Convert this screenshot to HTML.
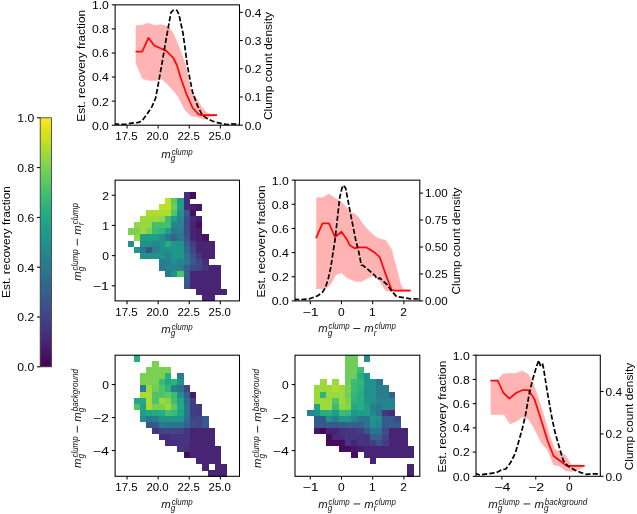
<!DOCTYPE html>
<html><head><meta charset="utf-8"><title>Recovery fraction corner plot</title>
<style>html,body{margin:0;padding:0;background:#fff;}body{width:637px;height:514px;overflow:hidden;font-family:"Liberation Sans",sans-serif;}svg{display:block;filter:blur(0.4px);}</style>
</head><body>
<svg width="637" height="514" viewBox="0 0 637 514" font-family='"Liberation Sans", sans-serif'>
<rect width="637" height="514" fill="#fff"/>
<defs><linearGradient id="vg" x1="0" y1="1" x2="0" y2="0">
<stop offset="0%" stop-color="#440154"/>
<stop offset="5%" stop-color="#471365"/>
<stop offset="10%" stop-color="#482475"/>
<stop offset="15%" stop-color="#45347f"/>
<stop offset="20%" stop-color="#414487"/>
<stop offset="25%" stop-color="#3b528b"/>
<stop offset="30%" stop-color="#355f8d"/>
<stop offset="35%" stop-color="#2f6c8e"/>
<stop offset="40%" stop-color="#2a788e"/>
<stop offset="45%" stop-color="#25848e"/>
<stop offset="50%" stop-color="#21918c"/>
<stop offset="55%" stop-color="#1e9d89"/>
<stop offset="60%" stop-color="#22a884"/>
<stop offset="65%" stop-color="#2fb47c"/>
<stop offset="70%" stop-color="#44bf70"/>
<stop offset="75%" stop-color="#5ec962"/>
<stop offset="80%" stop-color="#7ad151"/>
<stop offset="85%" stop-color="#9bd93c"/>
<stop offset="90%" stop-color="#bddf26"/>
<stop offset="95%" stop-color="#dfe318"/>
<stop offset="100%" stop-color="#fde725"/>
</linearGradient></defs>
<rect x="40.2" y="117.8" width="11.2" height="249" fill="url(#vg)" stroke="#333" stroke-width="0.8"/>
<line x1="36.9" y1="366.8" x2="40.2" y2="366.8" stroke="#000" stroke-width="1.05"/>
<text x="34.2" y="371.2" font-size="10.6" text-anchor="end" fill="#000" textLength="17" lengthAdjust="spacingAndGlyphs">0.0</text>
<line x1="36.9" y1="317" x2="40.2" y2="317" stroke="#000" stroke-width="1.05"/>
<text x="34.2" y="321.4" font-size="10.6" text-anchor="end" fill="#000" textLength="17" lengthAdjust="spacingAndGlyphs">0.2</text>
<line x1="36.9" y1="267.2" x2="40.2" y2="267.2" stroke="#000" stroke-width="1.05"/>
<text x="34.2" y="271.6" font-size="10.6" text-anchor="end" fill="#000" textLength="17" lengthAdjust="spacingAndGlyphs">0.4</text>
<line x1="36.9" y1="217.4" x2="40.2" y2="217.4" stroke="#000" stroke-width="1.05"/>
<text x="34.2" y="221.8" font-size="10.6" text-anchor="end" fill="#000" textLength="17" lengthAdjust="spacingAndGlyphs">0.6</text>
<line x1="36.9" y1="167.6" x2="40.2" y2="167.6" stroke="#000" stroke-width="1.05"/>
<text x="34.2" y="172" font-size="10.6" text-anchor="end" fill="#000" textLength="17" lengthAdjust="spacingAndGlyphs">0.8</text>
<line x1="36.9" y1="117.8" x2="40.2" y2="117.8" stroke="#000" stroke-width="1.05"/>
<text x="34.2" y="122.2" font-size="10.6" text-anchor="end" fill="#000" textLength="17" lengthAdjust="spacingAndGlyphs">1.0</text>
<text x="10.2" y="242" font-size="11" text-anchor="middle" fill="#000" textLength="112" lengthAdjust="spacingAndGlyphs" transform="rotate(-90 10.2 242)">Est. recovery fraction</text>
<clipPath id="c00"><rect x="115.1" y="4.85" width="124.4" height="120.35"/></clipPath>
<g clip-path="url(#c00)">
<path d="M136 25.4 L142.3 25.2 L148.4 23.2 L154.4 25.4 L161.5 24.8 L168.6 26.6 L173.4 33.7 L178 44.4 L180.75 51.5 L185.5 65 L190.25 88.75 L196.2 98.25 L201.5 106.6 L205.7 111.9 L210.4 114.3 L217 114.6 L217 115.8 L210.4 116.5 L204.5 119.6 L196.8 116.7 L191.4 116 L185.5 110.7 L180.75 101.8 L178 96.5 L173.4 90.5 L167.4 84 L161.5 79 L155.5 80.6 L149.6 80.6 L142.5 78.7 L137.2 66 L136 64 Z" fill="#ffb3b3" stroke="#ffb3b3" stroke-width="0.6" stroke-linejoin="round"/>
<path d="M135.6 51.5 L142.3 51.5 L148.4 37.8 L154.4 45.6 L160.4 48.2 L166.3 50.9 L173.4 58 L177 65.5 L180.75 78 L186.7 94.7 L192.6 107.75 L198.6 114.3 L201 115.1 L217 115.1" fill="none" stroke="#ff0808" stroke-width="1.75" stroke-linejoin="round" stroke-linecap="butt"/>
<path d="M114 123.8 L121.1 124.4 L125.9 124.1 L131.8 123.2 L139 122.4 L142.5 120.2 L147.25 113.7 L152 106.6 L155.6 98.25 L158.5 82.8 L161.5 66.2 L166 40 L171 12.3 L173.5 10.2 L175.2 9.8 L177 10.5 L179 14.7 L183.1 33.7 L187.3 65 L189.7 78 L192.6 92.3 L197.4 105.4 L202.1 114.9 L206.9 118.4 L211.6 120.8 L217.6 122.6 L223.5 124 L228.3 124.6 L231.8 123.8 L235.4 124.1 L240 124.1" fill="none" stroke="#000" stroke-width="1.7" stroke-dasharray="5.2 2.2" stroke-linejoin="round"/>
</g>
<rect x="115.1" y="4.85" width="124.4" height="120.35" fill="none" stroke="#000" stroke-width="1.05"/>
<line x1="127.04" y1="125.2" x2="127.04" y2="128.5" stroke="#000" stroke-width="1.05"/>
<text x="126.44" y="140.1" font-size="10.6" text-anchor="middle" fill="#000" textLength="22.2" lengthAdjust="spacingAndGlyphs">17.5</text>
<line x1="158.14" y1="125.2" x2="158.14" y2="128.5" stroke="#000" stroke-width="1.05"/>
<text x="157.54" y="140.1" font-size="10.6" text-anchor="middle" fill="#000" textLength="22.2" lengthAdjust="spacingAndGlyphs">20.0</text>
<line x1="189.24" y1="125.2" x2="189.24" y2="128.5" stroke="#000" stroke-width="1.05"/>
<text x="188.64" y="140.1" font-size="10.6" text-anchor="middle" fill="#000" textLength="22.2" lengthAdjust="spacingAndGlyphs">22.5</text>
<line x1="220.34" y1="125.2" x2="220.34" y2="128.5" stroke="#000" stroke-width="1.05"/>
<text x="219.74" y="140.1" font-size="10.6" text-anchor="middle" fill="#000" textLength="22.2" lengthAdjust="spacingAndGlyphs">25.0</text>
<line x1="111.8" y1="125.2" x2="115.1" y2="125.2" stroke="#000" stroke-width="1.05"/>
<text x="108.9" y="129.6" font-size="10.6" text-anchor="end" fill="#000" textLength="17" lengthAdjust="spacingAndGlyphs">0.0</text>
<line x1="111.8" y1="101.13" x2="115.1" y2="101.13" stroke="#000" stroke-width="1.05"/>
<text x="108.9" y="105.53" font-size="10.6" text-anchor="end" fill="#000" textLength="17" lengthAdjust="spacingAndGlyphs">0.2</text>
<line x1="111.8" y1="77.06" x2="115.1" y2="77.06" stroke="#000" stroke-width="1.05"/>
<text x="108.9" y="81.46" font-size="10.6" text-anchor="end" fill="#000" textLength="17" lengthAdjust="spacingAndGlyphs">0.4</text>
<line x1="111.8" y1="52.99" x2="115.1" y2="52.99" stroke="#000" stroke-width="1.05"/>
<text x="108.9" y="57.39" font-size="10.6" text-anchor="end" fill="#000" textLength="17" lengthAdjust="spacingAndGlyphs">0.6</text>
<line x1="111.8" y1="28.92" x2="115.1" y2="28.92" stroke="#000" stroke-width="1.05"/>
<text x="108.9" y="33.32" font-size="10.6" text-anchor="end" fill="#000" textLength="17" lengthAdjust="spacingAndGlyphs">0.8</text>
<line x1="111.8" y1="4.85" x2="115.1" y2="4.85" stroke="#000" stroke-width="1.05"/>
<text x="108.9" y="9.25" font-size="10.6" text-anchor="end" fill="#000" textLength="17" lengthAdjust="spacingAndGlyphs">1.0</text>
<line x1="239.5" y1="125.2" x2="242.8" y2="125.2" stroke="#000" stroke-width="1.05"/>
<text x="244.8" y="129.6" font-size="10.6" text-anchor="start" fill="#000" textLength="16.6" lengthAdjust="spacingAndGlyphs">0.0</text>
<line x1="239.5" y1="96.98" x2="242.8" y2="96.98" stroke="#000" stroke-width="1.05"/>
<text x="244.8" y="101.38" font-size="10.6" text-anchor="start" fill="#000" textLength="16.6" lengthAdjust="spacingAndGlyphs">0.1</text>
<line x1="239.5" y1="68.76" x2="242.8" y2="68.76" stroke="#000" stroke-width="1.05"/>
<text x="244.8" y="73.16" font-size="10.6" text-anchor="start" fill="#000" textLength="16.6" lengthAdjust="spacingAndGlyphs">0.2</text>
<line x1="239.5" y1="40.55" x2="242.8" y2="40.55" stroke="#000" stroke-width="1.05"/>
<text x="244.8" y="44.95" font-size="10.6" text-anchor="start" fill="#000" textLength="16.6" lengthAdjust="spacingAndGlyphs">0.3</text>
<line x1="239.5" y1="12.33" x2="242.8" y2="12.33" stroke="#000" stroke-width="1.05"/>
<text x="244.8" y="16.73" font-size="10.6" text-anchor="start" fill="#000" textLength="16.6" lengthAdjust="spacingAndGlyphs">0.4</text>
<text x="85.1" y="65.8" font-size="11" text-anchor="middle" fill="#000" textLength="112" lengthAdjust="spacingAndGlyphs" transform="rotate(-90 85.1 65.8)">Est. recovery fraction</text>
<text x="272.4" y="66" font-size="11" text-anchor="middle" fill="#000" textLength="108" lengthAdjust="spacingAndGlyphs" transform="rotate(-90 272.4 66)">Clump count density</text>
<text x="161.25" y="157.7" font-size="11.8" font-style="italic" fill="#111" textLength="9.5" lengthAdjust="spacingAndGlyphs">m</text><text x="171.65" y="154.9" font-size="8.2" font-style="italic" fill="#111" textLength="21.1" lengthAdjust="spacingAndGlyphs">clump</text><text x="170.75" y="161" font-size="8.2" font-style="italic" fill="#111">g</text>
<g shape-rendering="crispEdges">
<rect x="183.52" y="192.22" width="6.52" height="6.34" fill="#462e7b"/>
<rect x="189.74" y="192.22" width="6.52" height="6.34" fill="#45085b"/>
<rect x="164.86" y="198.26" width="6.52" height="6.34" fill="#bddf26"/>
<rect x="171.08" y="198.26" width="6.52" height="6.34" fill="#5ec962"/>
<rect x="177.3" y="198.26" width="6.52" height="6.34" fill="#1e9d89"/>
<rect x="183.52" y="198.26" width="6.52" height="6.34" fill="#472a79"/>
<rect x="158.64" y="204.3" width="6.52" height="6.34" fill="#bddf26"/>
<rect x="164.86" y="204.3" width="6.52" height="6.34" fill="#bddf26"/>
<rect x="171.08" y="204.3" width="6.52" height="6.34" fill="#6fce58"/>
<rect x="177.3" y="204.3" width="6.52" height="6.34" fill="#1e9d89"/>
<rect x="183.52" y="204.3" width="6.52" height="6.34" fill="#472a79"/>
<rect x="189.74" y="204.3" width="6.52" height="6.34" fill="#481d6f"/>
<rect x="195.96" y="204.3" width="6.52" height="6.34" fill="#471365"/>
<rect x="146.2" y="210.34" width="6.52" height="6.34" fill="#afdd2f"/>
<rect x="152.42" y="210.34" width="6.52" height="6.34" fill="#afdd2f"/>
<rect x="158.64" y="210.34" width="6.52" height="6.34" fill="#afdd2f"/>
<rect x="164.86" y="210.34" width="6.52" height="6.34" fill="#afdd2f"/>
<rect x="171.08" y="210.34" width="6.52" height="6.34" fill="#4ec36a"/>
<rect x="177.3" y="210.34" width="6.52" height="6.34" fill="#21918c"/>
<rect x="183.52" y="210.34" width="6.52" height="6.34" fill="#39578c"/>
<rect x="189.74" y="210.34" width="6.52" height="6.34" fill="#460f62"/>
<rect x="139.98" y="216.38" width="6.52" height="6.34" fill="#9bd93c"/>
<rect x="146.2" y="216.38" width="6.52" height="6.34" fill="#9bd93c"/>
<rect x="152.42" y="216.38" width="6.52" height="6.34" fill="#9bd93c"/>
<rect x="158.64" y="216.38" width="6.52" height="6.34" fill="#8ed644"/>
<rect x="164.86" y="216.38" width="6.52" height="6.34" fill="#3cbb75"/>
<rect x="171.08" y="216.38" width="6.52" height="6.34" fill="#1e9d89"/>
<rect x="177.3" y="216.38" width="6.52" height="6.34" fill="#25848e"/>
<rect x="183.52" y="216.38" width="6.52" height="6.34" fill="#3f4a89"/>
<rect x="189.74" y="216.38" width="6.52" height="6.34" fill="#472a79"/>
<rect x="195.96" y="216.38" width="6.52" height="6.34" fill="#481d6f"/>
<rect x="133.76" y="222.41" width="6.52" height="6.34" fill="#94d740"/>
<rect x="139.98" y="222.41" width="6.52" height="6.34" fill="#94d740"/>
<rect x="146.2" y="222.41" width="6.52" height="6.34" fill="#94d740"/>
<rect x="152.42" y="222.41" width="6.52" height="6.34" fill="#44bf70"/>
<rect x="158.64" y="222.41" width="6.52" height="6.34" fill="#44bf70"/>
<rect x="164.86" y="222.41" width="6.52" height="6.34" fill="#44bf70"/>
<rect x="171.08" y="222.41" width="6.52" height="6.34" fill="#25848e"/>
<rect x="177.3" y="222.41" width="6.52" height="6.34" fill="#25848e"/>
<rect x="183.52" y="222.41" width="6.52" height="6.34" fill="#3f4a89"/>
<rect x="189.74" y="222.41" width="6.52" height="6.34" fill="#482475"/>
<rect x="195.96" y="222.41" width="6.52" height="6.34" fill="#460c5e"/>
<rect x="127.54" y="228.45" width="6.52" height="6.34" fill="#7ad151"/>
<rect x="133.76" y="228.45" width="6.52" height="6.34" fill="#7ad151"/>
<rect x="139.98" y="228.45" width="6.52" height="6.34" fill="#9bd93c"/>
<rect x="146.2" y="228.45" width="6.52" height="6.34" fill="#7ad151"/>
<rect x="152.42" y="228.45" width="6.52" height="6.34" fill="#3cbb75"/>
<rect x="158.64" y="228.45" width="6.52" height="6.34" fill="#2fb47c"/>
<rect x="164.86" y="228.45" width="6.52" height="6.34" fill="#1f9f88"/>
<rect x="171.08" y="228.45" width="6.52" height="6.34" fill="#2a788e"/>
<rect x="177.3" y="228.45" width="6.52" height="6.34" fill="#287d8e"/>
<rect x="183.52" y="228.45" width="6.52" height="6.34" fill="#3f4a89"/>
<rect x="189.74" y="228.45" width="6.52" height="6.34" fill="#482475"/>
<rect x="195.96" y="228.45" width="6.52" height="6.34" fill="#481d6f"/>
<rect x="133.76" y="234.49" width="6.52" height="6.34" fill="#94d740"/>
<rect x="139.98" y="234.49" width="6.52" height="6.34" fill="#1f9f88"/>
<rect x="146.2" y="234.49" width="6.52" height="6.34" fill="#1f9f88"/>
<rect x="152.42" y="234.49" width="6.52" height="6.34" fill="#1f9f88"/>
<rect x="158.64" y="234.49" width="6.52" height="6.34" fill="#21918c"/>
<rect x="164.86" y="234.49" width="6.52" height="6.34" fill="#2a788e"/>
<rect x="171.08" y="234.49" width="6.52" height="6.34" fill="#33648d"/>
<rect x="177.3" y="234.49" width="6.52" height="6.34" fill="#2a788e"/>
<rect x="183.52" y="234.49" width="6.52" height="6.34" fill="#3b528b"/>
<rect x="189.74" y="234.49" width="6.52" height="6.34" fill="#482475"/>
<rect x="195.96" y="234.49" width="6.52" height="6.34" fill="#481d6f"/>
<rect x="202.18" y="234.49" width="6.52" height="6.34" fill="#471365"/>
<rect x="127.54" y="240.52" width="6.52" height="6.34" fill="#21918c"/>
<rect x="139.98" y="240.52" width="6.52" height="6.34" fill="#21918c"/>
<rect x="146.2" y="240.52" width="6.52" height="6.34" fill="#21918c"/>
<rect x="152.42" y="240.52" width="6.52" height="6.34" fill="#23898d"/>
<rect x="158.64" y="240.52" width="6.52" height="6.34" fill="#21918c"/>
<rect x="164.86" y="240.52" width="6.52" height="6.34" fill="#27ad81"/>
<rect x="171.08" y="240.52" width="6.52" height="6.34" fill="#20968b"/>
<rect x="177.3" y="240.52" width="6.52" height="6.34" fill="#21918c"/>
<rect x="183.52" y="240.52" width="6.52" height="6.34" fill="#355f8d"/>
<rect x="189.74" y="240.52" width="6.52" height="6.34" fill="#433e84"/>
<rect x="195.96" y="240.52" width="6.52" height="6.34" fill="#482475"/>
<rect x="202.18" y="240.52" width="6.52" height="6.34" fill="#482475"/>
<rect x="208.4" y="240.52" width="6.52" height="6.34" fill="#482475"/>
<rect x="133.76" y="246.56" width="6.52" height="6.34" fill="#20968b"/>
<rect x="139.98" y="246.56" width="6.52" height="6.34" fill="#2a788e"/>
<rect x="146.2" y="246.56" width="6.52" height="6.34" fill="#3b528b"/>
<rect x="152.42" y="246.56" width="6.52" height="6.34" fill="#287d8e"/>
<rect x="158.64" y="246.56" width="6.52" height="6.34" fill="#238c8d"/>
<rect x="164.86" y="246.56" width="6.52" height="6.34" fill="#21918c"/>
<rect x="171.08" y="246.56" width="6.52" height="6.34" fill="#20968b"/>
<rect x="177.3" y="246.56" width="6.52" height="6.34" fill="#20968b"/>
<rect x="183.52" y="246.56" width="6.52" height="6.34" fill="#2f6c8e"/>
<rect x="189.74" y="246.56" width="6.52" height="6.34" fill="#414487"/>
<rect x="195.96" y="246.56" width="6.52" height="6.34" fill="#482475"/>
<rect x="202.18" y="246.56" width="6.52" height="6.34" fill="#482475"/>
<rect x="208.4" y="246.56" width="6.52" height="6.34" fill="#482475"/>
<rect x="139.98" y="252.6" width="6.52" height="6.34" fill="#21918c"/>
<rect x="146.2" y="252.6" width="6.52" height="6.34" fill="#21918c"/>
<rect x="152.42" y="252.6" width="6.52" height="6.34" fill="#21918c"/>
<rect x="158.64" y="252.6" width="6.52" height="6.34" fill="#21918c"/>
<rect x="164.86" y="252.6" width="6.52" height="6.34" fill="#25848e"/>
<rect x="171.08" y="252.6" width="6.52" height="6.34" fill="#20968b"/>
<rect x="177.3" y="252.6" width="6.52" height="6.34" fill="#20968b"/>
<rect x="183.52" y="252.6" width="6.52" height="6.34" fill="#2c738e"/>
<rect x="189.74" y="252.6" width="6.52" height="6.34" fill="#3b528b"/>
<rect x="195.96" y="252.6" width="6.52" height="6.34" fill="#45347f"/>
<rect x="202.18" y="252.6" width="6.52" height="6.34" fill="#482475"/>
<rect x="208.4" y="252.6" width="6.52" height="6.34" fill="#482475"/>
<rect x="158.64" y="258.64" width="6.52" height="6.34" fill="#287d8e"/>
<rect x="164.86" y="258.64" width="6.52" height="6.34" fill="#287d8e"/>
<rect x="171.08" y="258.64" width="6.52" height="6.34" fill="#238c8d"/>
<rect x="177.3" y="258.64" width="6.52" height="6.34" fill="#25848e"/>
<rect x="183.52" y="258.64" width="6.52" height="6.34" fill="#2a788e"/>
<rect x="189.74" y="258.64" width="6.52" height="6.34" fill="#375a8c"/>
<rect x="195.96" y="258.64" width="6.52" height="6.34" fill="#414487"/>
<rect x="202.18" y="258.64" width="6.52" height="6.34" fill="#462e7b"/>
<rect x="158.64" y="264.67" width="6.52" height="6.34" fill="#287d8e"/>
<rect x="164.86" y="264.67" width="6.52" height="6.34" fill="#25848e"/>
<rect x="171.08" y="264.67" width="6.52" height="6.34" fill="#25848e"/>
<rect x="177.3" y="264.67" width="6.52" height="6.34" fill="#287d8e"/>
<rect x="183.52" y="264.67" width="6.52" height="6.34" fill="#355f8d"/>
<rect x="189.74" y="264.67" width="6.52" height="6.34" fill="#3f4a89"/>
<rect x="195.96" y="264.67" width="6.52" height="6.34" fill="#414487"/>
<rect x="202.18" y="264.67" width="6.52" height="6.34" fill="#45347f"/>
<rect x="208.4" y="264.67" width="6.52" height="6.34" fill="#482475"/>
<rect x="214.62" y="264.67" width="6.52" height="6.34" fill="#482475"/>
<rect x="164.86" y="270.71" width="6.52" height="6.34" fill="#2a788e"/>
<rect x="171.08" y="270.71" width="6.52" height="6.34" fill="#21918c"/>
<rect x="177.3" y="270.71" width="6.52" height="6.34" fill="#4ec36a"/>
<rect x="183.52" y="270.71" width="6.52" height="6.34" fill="#355f8d"/>
<rect x="189.74" y="270.71" width="6.52" height="6.34" fill="#482475"/>
<rect x="195.96" y="270.71" width="6.52" height="6.34" fill="#482475"/>
<rect x="202.18" y="270.71" width="6.52" height="6.34" fill="#482475"/>
<rect x="208.4" y="270.71" width="6.52" height="6.34" fill="#482475"/>
<rect x="214.62" y="270.71" width="6.52" height="6.34" fill="#482475"/>
<rect x="183.52" y="276.75" width="6.52" height="6.34" fill="#375a8c"/>
<rect x="189.74" y="276.75" width="6.52" height="6.34" fill="#482475"/>
<rect x="195.96" y="276.75" width="6.52" height="6.34" fill="#482475"/>
<rect x="202.18" y="276.75" width="6.52" height="6.34" fill="#482475"/>
<rect x="208.4" y="276.75" width="6.52" height="6.34" fill="#482475"/>
<rect x="214.62" y="276.75" width="6.52" height="6.34" fill="#482475"/>
<rect x="183.52" y="282.79" width="6.52" height="6.34" fill="#39578c"/>
<rect x="189.74" y="282.79" width="6.52" height="6.34" fill="#482475"/>
<rect x="195.96" y="282.79" width="6.52" height="6.34" fill="#482475"/>
<rect x="202.18" y="282.79" width="6.52" height="6.34" fill="#482475"/>
<rect x="208.4" y="282.79" width="6.52" height="6.34" fill="#482475"/>
<rect x="214.62" y="282.79" width="6.52" height="6.34" fill="#482475"/>
<rect x="195.96" y="288.82" width="6.52" height="6.34" fill="#482475"/>
<rect x="202.18" y="288.82" width="6.52" height="6.34" fill="#482475"/>
<rect x="208.4" y="288.82" width="6.52" height="6.34" fill="#482475"/>
<rect x="214.62" y="288.82" width="6.52" height="6.34" fill="#482475"/>
<rect x="220.84" y="288.82" width="6.52" height="6.34" fill="#482475"/>
<rect x="202.18" y="294.86" width="6.52" height="6.34" fill="#482475"/>
<rect x="208.4" y="294.86" width="6.52" height="6.34" fill="#482475"/>
</g>
<rect x="115.1" y="180.15" width="124.4" height="120.75" fill="none" stroke="#000" stroke-width="1.05"/>
<line x1="127.04" y1="300.9" x2="127.04" y2="304.2" stroke="#000" stroke-width="1.05"/>
<text x="126.44" y="315.8" font-size="10.6" text-anchor="middle" fill="#000" textLength="22.2" lengthAdjust="spacingAndGlyphs">17.5</text>
<line x1="158.14" y1="300.9" x2="158.14" y2="304.2" stroke="#000" stroke-width="1.05"/>
<text x="157.54" y="315.8" font-size="10.6" text-anchor="middle" fill="#000" textLength="22.2" lengthAdjust="spacingAndGlyphs">20.0</text>
<line x1="189.24" y1="300.9" x2="189.24" y2="304.2" stroke="#000" stroke-width="1.05"/>
<text x="188.64" y="315.8" font-size="10.6" text-anchor="middle" fill="#000" textLength="22.2" lengthAdjust="spacingAndGlyphs">22.5</text>
<line x1="220.34" y1="300.9" x2="220.34" y2="304.2" stroke="#000" stroke-width="1.05"/>
<text x="219.74" y="315.8" font-size="10.6" text-anchor="middle" fill="#000" textLength="22.2" lengthAdjust="spacingAndGlyphs">25.0</text>
<line x1="111.8" y1="285.81" x2="115.1" y2="285.81" stroke="#000" stroke-width="1.05"/>
<text x="108.9" y="290.21" font-size="10.6" text-anchor="end" fill="#000" textLength="16.2" lengthAdjust="spacingAndGlyphs">−1</text>
<line x1="111.8" y1="255.62" x2="115.1" y2="255.62" stroke="#000" stroke-width="1.05"/>
<text x="108.9" y="260.02" font-size="10.6" text-anchor="end" fill="#000" textLength="6.7" lengthAdjust="spacingAndGlyphs">0</text>
<line x1="111.8" y1="225.43" x2="115.1" y2="225.43" stroke="#000" stroke-width="1.05"/>
<text x="108.9" y="229.83" font-size="10.6" text-anchor="end" fill="#000" textLength="6.7" lengthAdjust="spacingAndGlyphs">1</text>
<line x1="111.8" y1="195.24" x2="115.1" y2="195.24" stroke="#000" stroke-width="1.05"/>
<text x="108.9" y="199.64" font-size="10.6" text-anchor="end" fill="#000" textLength="6.7" lengthAdjust="spacingAndGlyphs">2</text>
<g transform="rotate(-90 81 242)"><text x="42.15" y="242" font-size="11.8" font-style="italic" fill="#111" textLength="9.5" lengthAdjust="spacingAndGlyphs">m</text><text x="52.55" y="239.2" font-size="8.2" font-style="italic" fill="#111" textLength="21.1" lengthAdjust="spacingAndGlyphs">clump</text><text x="51.65" y="245.3" font-size="8.2" font-style="italic" fill="#111">g</text><rect x="77.45" y="237.8" width="6.8" height="0.9" fill="#111"/><text x="88.35" y="242" font-size="11.8" font-style="italic" fill="#111" textLength="9.5" lengthAdjust="spacingAndGlyphs">m</text><text x="98.75" y="239.2" font-size="8.2" font-style="italic" fill="#111" textLength="21.1" lengthAdjust="spacingAndGlyphs">clump</text><text x="97.85" y="245.3" font-size="8.2" font-style="italic" fill="#111">r</text></g>
<text x="161.25" y="332.7" font-size="11.8" font-style="italic" fill="#111" textLength="9.5" lengthAdjust="spacingAndGlyphs">m</text><text x="171.65" y="329.9" font-size="8.2" font-style="italic" fill="#111" textLength="21.1" lengthAdjust="spacingAndGlyphs">clump</text><text x="170.75" y="336" font-size="8.2" font-style="italic" fill="#111">g</text>
<clipPath id="c11"><rect x="295" y="180.15" width="124.8" height="120.75"/></clipPath>
<g clip-path="url(#c11)">
<path d="M316.6 197.8 L322.5 197.8 L329 194 L334.4 197.8 L341.5 202 L346.3 207.3 L351 212.7 L354.6 213.8 L358 216.8 L361.9 222.8 L367.9 229.9 L375 236.4 L379.75 239.1 L385.7 240.3 L391.6 249.5 L394 259 L397.6 272 L400.5 284 L403.5 289.3 L410.6 290 L410.6 291 L403.5 291 L391.6 291.7 L385.7 290.5 L382 285 L378 278 L373.8 275.6 L367.9 278 L360.75 281.8 L354.6 281 L347.4 278 L341.5 272.7 L335.6 275 L330.8 284 L325.5 288.7 L316.6 288.7 Z" fill="#ffb3b3" stroke="#ffb3b3" stroke-width="0.6" stroke-linejoin="round"/>
<path d="M316 238.2 L322.5 223.3 L329 223.3 L335 237 L341.5 231.7 L346.85 239.4 L349.8 245.3 L354.6 248.3 L358 247.4 L366.7 247.4 L373.8 251.9 L379.75 257.2 L385.7 274.4 L391.6 289.9 L395 290.5 L410.6 290.5" fill="none" stroke="#ff0808" stroke-width="1.75" stroke-linejoin="round" stroke-linecap="butt"/>
<path d="M294 299.4 L301 299.7 L309.4 298.8 L317.75 295.8 L322.5 292.25 L325.5 287.5 L328.4 278 L330.8 267.3 L332.6 255.4 L335 240 L339.7 197.8 L342 188 L343.3 185.3 L345.7 188.3 L350.4 213.25 L355.75 240 L357.5 247 L359 253 L361.3 265 L363.1 265.5 L369 270.3 L375 275.6 L377.4 279.2 L379.75 278 L386.9 284.5 L391.6 291 L396.4 296.4 L403.5 297.6 L410.6 298.8 L416.6 299 L420 298.6" fill="none" stroke="#000" stroke-width="1.7" stroke-dasharray="5.2 2.2" stroke-linejoin="round"/>
</g>
<rect x="295" y="180.15" width="124.8" height="120.75" fill="none" stroke="#000" stroke-width="1.05"/>
<line x1="310.29" y1="300.9" x2="310.29" y2="304.2" stroke="#000" stroke-width="1.05"/>
<text x="310.69" y="315.8" font-size="10.6" text-anchor="middle" fill="#000" textLength="16.2" lengthAdjust="spacingAndGlyphs">−1</text>
<line x1="341.49" y1="300.9" x2="341.49" y2="304.2" stroke="#000" stroke-width="1.05"/>
<text x="341.29" y="315.8" font-size="10.6" text-anchor="middle" fill="#000" textLength="6.7" lengthAdjust="spacingAndGlyphs">0</text>
<line x1="372.69" y1="300.9" x2="372.69" y2="304.2" stroke="#000" stroke-width="1.05"/>
<text x="372.49" y="315.8" font-size="10.6" text-anchor="middle" fill="#000" textLength="6.7" lengthAdjust="spacingAndGlyphs">1</text>
<line x1="403.89" y1="300.9" x2="403.89" y2="304.2" stroke="#000" stroke-width="1.05"/>
<text x="403.69" y="315.8" font-size="10.6" text-anchor="middle" fill="#000" textLength="6.7" lengthAdjust="spacingAndGlyphs">2</text>
<line x1="291.7" y1="300.9" x2="295" y2="300.9" stroke="#000" stroke-width="1.05"/>
<text x="288.8" y="305.3" font-size="10.6" text-anchor="end" fill="#000" textLength="17" lengthAdjust="spacingAndGlyphs">0.0</text>
<line x1="291.7" y1="276.75" x2="295" y2="276.75" stroke="#000" stroke-width="1.05"/>
<text x="288.8" y="281.15" font-size="10.6" text-anchor="end" fill="#000" textLength="17" lengthAdjust="spacingAndGlyphs">0.2</text>
<line x1="291.7" y1="252.6" x2="295" y2="252.6" stroke="#000" stroke-width="1.05"/>
<text x="288.8" y="257" font-size="10.6" text-anchor="end" fill="#000" textLength="17" lengthAdjust="spacingAndGlyphs">0.4</text>
<line x1="291.7" y1="228.45" x2="295" y2="228.45" stroke="#000" stroke-width="1.05"/>
<text x="288.8" y="232.85" font-size="10.6" text-anchor="end" fill="#000" textLength="17" lengthAdjust="spacingAndGlyphs">0.6</text>
<line x1="291.7" y1="204.3" x2="295" y2="204.3" stroke="#000" stroke-width="1.05"/>
<text x="288.8" y="208.7" font-size="10.6" text-anchor="end" fill="#000" textLength="17" lengthAdjust="spacingAndGlyphs">0.8</text>
<line x1="291.7" y1="180.15" x2="295" y2="180.15" stroke="#000" stroke-width="1.05"/>
<text x="288.8" y="184.55" font-size="10.6" text-anchor="end" fill="#000" textLength="17" lengthAdjust="spacingAndGlyphs">1.0</text>
<line x1="419.8" y1="300.9" x2="423.1" y2="300.9" stroke="#000" stroke-width="1.05"/>
<text x="425.1" y="305.3" font-size="10.6" text-anchor="start" fill="#000" textLength="22.6" lengthAdjust="spacingAndGlyphs">0.00</text>
<line x1="419.8" y1="273.95" x2="423.1" y2="273.95" stroke="#000" stroke-width="1.05"/>
<text x="425.1" y="278.35" font-size="10.6" text-anchor="start" fill="#000" textLength="22.6" lengthAdjust="spacingAndGlyphs">0.25</text>
<line x1="419.8" y1="246.99" x2="423.1" y2="246.99" stroke="#000" stroke-width="1.05"/>
<text x="425.1" y="251.39" font-size="10.6" text-anchor="start" fill="#000" textLength="22.6" lengthAdjust="spacingAndGlyphs">0.50</text>
<line x1="419.8" y1="220.04" x2="423.1" y2="220.04" stroke="#000" stroke-width="1.05"/>
<text x="425.1" y="224.44" font-size="10.6" text-anchor="start" fill="#000" textLength="22.6" lengthAdjust="spacingAndGlyphs">0.75</text>
<line x1="419.8" y1="193.09" x2="423.1" y2="193.09" stroke="#000" stroke-width="1.05"/>
<text x="425.1" y="197.49" font-size="10.6" text-anchor="start" fill="#000" textLength="22.6" lengthAdjust="spacingAndGlyphs">1.00</text>
<text x="264.8" y="241.4" font-size="11" text-anchor="middle" fill="#000" textLength="112" lengthAdjust="spacingAndGlyphs" transform="rotate(-90 264.8 241.4)">Est. recovery fraction</text>
<text x="460.2" y="241" font-size="11" text-anchor="middle" fill="#000" textLength="107" lengthAdjust="spacingAndGlyphs" transform="rotate(-90 460.2 241)">Clump count density</text>
<text x="318.15" y="332.2" font-size="11.8" font-style="italic" fill="#111" textLength="9.5" lengthAdjust="spacingAndGlyphs">m</text><text x="328.55" y="329.4" font-size="8.2" font-style="italic" fill="#111" textLength="21.1" lengthAdjust="spacingAndGlyphs">clump</text><text x="327.65" y="335.5" font-size="8.2" font-style="italic" fill="#111">g</text><rect x="353.45" y="328" width="6.8" height="0.9" fill="#111"/><text x="364.35" y="332.2" font-size="11.8" font-style="italic" fill="#111" textLength="9.5" lengthAdjust="spacingAndGlyphs">m</text><text x="374.75" y="329.4" font-size="8.2" font-style="italic" fill="#111" textLength="21.1" lengthAdjust="spacingAndGlyphs">clump</text><text x="373.85" y="335.5" font-size="8.2" font-style="italic" fill="#111">r</text>
<g shape-rendering="crispEdges">
<rect x="133.76" y="355.2" width="6.52" height="6.36" fill="#27ad81"/>
<rect x="152.42" y="361.25" width="6.52" height="6.36" fill="#7ad151"/>
<rect x="146.2" y="367.31" width="6.52" height="6.36" fill="#7ad151"/>
<rect x="152.42" y="367.31" width="6.52" height="6.36" fill="#7ad151"/>
<rect x="158.64" y="367.31" width="6.52" height="6.36" fill="#7ad151"/>
<rect x="164.86" y="367.31" width="6.52" height="6.36" fill="#7ad151"/>
<rect x="139.98" y="373.37" width="6.52" height="6.36" fill="#7ad151"/>
<rect x="146.2" y="373.37" width="6.52" height="6.36" fill="#7ad151"/>
<rect x="152.42" y="373.37" width="6.52" height="6.36" fill="#7ad151"/>
<rect x="158.64" y="373.37" width="6.52" height="6.36" fill="#7ad151"/>
<rect x="164.86" y="373.37" width="6.52" height="6.36" fill="#2aaf7f"/>
<rect x="177.3" y="373.37" width="6.52" height="6.36" fill="#277f8e"/>
<rect x="139.98" y="379.42" width="6.52" height="6.36" fill="#7ad151"/>
<rect x="146.2" y="379.42" width="6.52" height="6.36" fill="#7ad151"/>
<rect x="152.42" y="379.42" width="6.52" height="6.36" fill="#7ad151"/>
<rect x="158.64" y="379.42" width="6.52" height="6.36" fill="#3cbb75"/>
<rect x="164.86" y="379.42" width="6.52" height="6.36" fill="#22a884"/>
<rect x="171.08" y="379.42" width="6.52" height="6.36" fill="#2fb47c"/>
<rect x="177.3" y="379.42" width="6.52" height="6.36" fill="#21918c"/>
<rect x="139.98" y="385.48" width="6.52" height="6.36" fill="#287d8e"/>
<rect x="146.2" y="385.48" width="6.52" height="6.36" fill="#9bd93c"/>
<rect x="152.42" y="385.48" width="6.52" height="6.36" fill="#6fce58"/>
<rect x="158.64" y="385.48" width="6.52" height="6.36" fill="#4ec36a"/>
<rect x="164.86" y="385.48" width="6.52" height="6.36" fill="#2fb47c"/>
<rect x="171.08" y="385.48" width="6.52" height="6.36" fill="#287d8e"/>
<rect x="177.3" y="385.48" width="6.52" height="6.36" fill="#2c738e"/>
<rect x="183.52" y="385.48" width="6.52" height="6.36" fill="#414487"/>
<rect x="139.98" y="391.53" width="6.52" height="6.36" fill="#a9db33"/>
<rect x="146.2" y="391.53" width="6.52" height="6.36" fill="#a9db33"/>
<rect x="152.42" y="391.53" width="6.52" height="6.36" fill="#4ec36a"/>
<rect x="158.64" y="391.53" width="6.52" height="6.36" fill="#4ec36a"/>
<rect x="164.86" y="391.53" width="6.52" height="6.36" fill="#5ec962"/>
<rect x="171.08" y="391.53" width="6.52" height="6.36" fill="#3cbb75"/>
<rect x="177.3" y="391.53" width="6.52" height="6.36" fill="#238c8d"/>
<rect x="183.52" y="391.53" width="6.52" height="6.36" fill="#355f8d"/>
<rect x="189.74" y="391.53" width="6.52" height="6.36" fill="#471a6b"/>
<rect x="133.76" y="397.58" width="6.52" height="6.36" fill="#22a884"/>
<rect x="139.98" y="397.58" width="6.52" height="6.36" fill="#22a884"/>
<rect x="146.2" y="397.58" width="6.52" height="6.36" fill="#a9db33"/>
<rect x="152.42" y="397.58" width="6.52" height="6.36" fill="#4ec36a"/>
<rect x="158.64" y="397.58" width="6.52" height="6.36" fill="#9bd93c"/>
<rect x="164.86" y="397.58" width="6.52" height="6.36" fill="#87d449"/>
<rect x="171.08" y="397.58" width="6.52" height="6.36" fill="#44bf70"/>
<rect x="177.3" y="397.58" width="6.52" height="6.36" fill="#20a486"/>
<rect x="183.52" y="397.58" width="6.52" height="6.36" fill="#2f6c8e"/>
<rect x="189.74" y="397.58" width="6.52" height="6.36" fill="#433e84"/>
<rect x="133.76" y="403.64" width="6.52" height="6.36" fill="#4ec36a"/>
<rect x="139.98" y="403.64" width="6.52" height="6.36" fill="#20a486"/>
<rect x="146.2" y="403.64" width="6.52" height="6.36" fill="#a9db33"/>
<rect x="152.42" y="403.64" width="6.52" height="6.36" fill="#7ad151"/>
<rect x="158.64" y="403.64" width="6.52" height="6.36" fill="#7ad151"/>
<rect x="164.86" y="403.64" width="6.52" height="6.36" fill="#9bd93c"/>
<rect x="171.08" y="403.64" width="6.52" height="6.36" fill="#5ec962"/>
<rect x="177.3" y="403.64" width="6.52" height="6.36" fill="#22a884"/>
<rect x="183.52" y="403.64" width="6.52" height="6.36" fill="#2c738e"/>
<rect x="189.74" y="403.64" width="6.52" height="6.36" fill="#433e84"/>
<rect x="195.96" y="403.64" width="6.52" height="6.36" fill="#433a82"/>
<rect x="139.98" y="409.69" width="6.52" height="6.36" fill="#1e9d89"/>
<rect x="146.2" y="409.69" width="6.52" height="6.36" fill="#20a486"/>
<rect x="152.42" y="409.69" width="6.52" height="6.36" fill="#22a884"/>
<rect x="158.64" y="409.69" width="6.52" height="6.36" fill="#27ad81"/>
<rect x="164.86" y="409.69" width="6.52" height="6.36" fill="#44bf70"/>
<rect x="171.08" y="409.69" width="6.52" height="6.36" fill="#3cbb75"/>
<rect x="177.3" y="409.69" width="6.52" height="6.36" fill="#20a486"/>
<rect x="183.52" y="409.69" width="6.52" height="6.36" fill="#2a788e"/>
<rect x="189.74" y="409.69" width="6.52" height="6.36" fill="#433e84"/>
<rect x="195.96" y="409.69" width="6.52" height="6.36" fill="#433a82"/>
<rect x="139.98" y="415.75" width="6.52" height="6.36" fill="#238c8d"/>
<rect x="146.2" y="415.75" width="6.52" height="6.36" fill="#2a788e"/>
<rect x="152.42" y="415.75" width="6.52" height="6.36" fill="#287d8e"/>
<rect x="158.64" y="415.75" width="6.52" height="6.36" fill="#21918c"/>
<rect x="164.86" y="415.75" width="6.52" height="6.36" fill="#20968b"/>
<rect x="171.08" y="415.75" width="6.52" height="6.36" fill="#20968b"/>
<rect x="177.3" y="415.75" width="6.52" height="6.36" fill="#20968b"/>
<rect x="183.52" y="415.75" width="6.52" height="6.36" fill="#2f6c8e"/>
<rect x="189.74" y="415.75" width="6.52" height="6.36" fill="#414487"/>
<rect x="195.96" y="415.75" width="6.52" height="6.36" fill="#414487"/>
<rect x="202.18" y="415.75" width="6.52" height="6.36" fill="#375a8c"/>
<rect x="146.2" y="421.81" width="6.52" height="6.36" fill="#39578c"/>
<rect x="152.42" y="421.81" width="6.52" height="6.36" fill="#39578c"/>
<rect x="158.64" y="421.81" width="6.52" height="6.36" fill="#2a788e"/>
<rect x="164.86" y="421.81" width="6.52" height="6.36" fill="#2c738e"/>
<rect x="171.08" y="421.81" width="6.52" height="6.36" fill="#2c738e"/>
<rect x="177.3" y="421.81" width="6.52" height="6.36" fill="#2c738e"/>
<rect x="183.52" y="421.81" width="6.52" height="6.36" fill="#355f8d"/>
<rect x="189.74" y="421.81" width="6.52" height="6.36" fill="#3f4a89"/>
<rect x="195.96" y="421.81" width="6.52" height="6.36" fill="#414487"/>
<rect x="202.18" y="421.81" width="6.52" height="6.36" fill="#39578c"/>
<rect x="152.42" y="427.86" width="6.52" height="6.36" fill="#45347f"/>
<rect x="158.64" y="427.86" width="6.52" height="6.36" fill="#414487"/>
<rect x="164.86" y="427.86" width="6.52" height="6.36" fill="#414487"/>
<rect x="171.08" y="427.86" width="6.52" height="6.36" fill="#414487"/>
<rect x="177.3" y="427.86" width="6.52" height="6.36" fill="#414487"/>
<rect x="183.52" y="427.86" width="6.52" height="6.36" fill="#45347f"/>
<rect x="189.74" y="427.86" width="6.52" height="6.36" fill="#482475"/>
<rect x="195.96" y="427.86" width="6.52" height="6.36" fill="#482475"/>
<rect x="202.18" y="427.86" width="6.52" height="6.36" fill="#482475"/>
<rect x="208.4" y="427.86" width="6.52" height="6.36" fill="#482475"/>
<rect x="158.64" y="433.92" width="6.52" height="6.36" fill="#462e7b"/>
<rect x="164.86" y="433.92" width="6.52" height="6.36" fill="#462e7b"/>
<rect x="171.08" y="433.92" width="6.52" height="6.36" fill="#45347f"/>
<rect x="177.3" y="433.92" width="6.52" height="6.36" fill="#45347f"/>
<rect x="183.52" y="433.92" width="6.52" height="6.36" fill="#45347f"/>
<rect x="189.74" y="433.92" width="6.52" height="6.36" fill="#482475"/>
<rect x="195.96" y="433.92" width="6.52" height="6.36" fill="#482475"/>
<rect x="202.18" y="433.92" width="6.52" height="6.36" fill="#482475"/>
<rect x="208.4" y="433.92" width="6.52" height="6.36" fill="#482475"/>
<rect x="164.86" y="439.97" width="6.52" height="6.36" fill="#472a79"/>
<rect x="171.08" y="439.97" width="6.52" height="6.36" fill="#462e7b"/>
<rect x="177.3" y="439.97" width="6.52" height="6.36" fill="#45347f"/>
<rect x="183.52" y="439.97" width="6.52" height="6.36" fill="#45347f"/>
<rect x="189.74" y="439.97" width="6.52" height="6.36" fill="#482475"/>
<rect x="195.96" y="439.97" width="6.52" height="6.36" fill="#482475"/>
<rect x="202.18" y="439.97" width="6.52" height="6.36" fill="#482475"/>
<rect x="208.4" y="439.97" width="6.52" height="6.36" fill="#482475"/>
<rect x="177.3" y="446.02" width="6.52" height="6.36" fill="#45347f"/>
<rect x="183.52" y="446.02" width="6.52" height="6.36" fill="#462e7b"/>
<rect x="189.74" y="446.02" width="6.52" height="6.36" fill="#482475"/>
<rect x="195.96" y="446.02" width="6.52" height="6.36" fill="#482475"/>
<rect x="202.18" y="446.02" width="6.52" height="6.36" fill="#482475"/>
<rect x="208.4" y="446.02" width="6.52" height="6.36" fill="#482475"/>
<rect x="214.62" y="446.02" width="6.52" height="6.36" fill="#482475"/>
<rect x="183.52" y="452.08" width="6.52" height="6.36" fill="#460c5e"/>
<rect x="189.74" y="452.08" width="6.52" height="6.36" fill="#482475"/>
<rect x="195.96" y="452.08" width="6.52" height="6.36" fill="#482475"/>
<rect x="202.18" y="452.08" width="6.52" height="6.36" fill="#482475"/>
<rect x="208.4" y="452.08" width="6.52" height="6.36" fill="#482475"/>
<rect x="214.62" y="452.08" width="6.52" height="6.36" fill="#482475"/>
<rect x="195.96" y="458.13" width="6.52" height="6.36" fill="#482475"/>
<rect x="202.18" y="458.13" width="6.52" height="6.36" fill="#482475"/>
<rect x="208.4" y="458.13" width="6.52" height="6.36" fill="#482475"/>
<rect x="214.62" y="458.13" width="6.52" height="6.36" fill="#482475"/>
<rect x="202.18" y="464.19" width="6.52" height="6.36" fill="#482475"/>
<rect x="214.62" y="464.19" width="6.52" height="6.36" fill="#482475"/>
<rect x="220.84" y="464.19" width="6.52" height="6.36" fill="#482475"/>
<rect x="208.4" y="470.25" width="6.52" height="6.36" fill="#482475"/>
<rect x="214.62" y="470.25" width="6.52" height="6.36" fill="#482475"/>
<rect x="220.84" y="470.25" width="6.52" height="6.36" fill="#482475"/>
</g>
<rect x="115.1" y="355.2" width="124.4" height="121.1" fill="none" stroke="#000" stroke-width="1.05"/>
<line x1="127.04" y1="476.3" x2="127.04" y2="479.6" stroke="#000" stroke-width="1.05"/>
<text x="126.44" y="491.2" font-size="10.6" text-anchor="middle" fill="#000" textLength="22.2" lengthAdjust="spacingAndGlyphs">17.5</text>
<line x1="158.14" y1="476.3" x2="158.14" y2="479.6" stroke="#000" stroke-width="1.05"/>
<text x="157.54" y="491.2" font-size="10.6" text-anchor="middle" fill="#000" textLength="22.2" lengthAdjust="spacingAndGlyphs">20.0</text>
<line x1="189.24" y1="476.3" x2="189.24" y2="479.6" stroke="#000" stroke-width="1.05"/>
<text x="188.64" y="491.2" font-size="10.6" text-anchor="middle" fill="#000" textLength="22.2" lengthAdjust="spacingAndGlyphs">22.5</text>
<line x1="220.34" y1="476.3" x2="220.34" y2="479.6" stroke="#000" stroke-width="1.05"/>
<text x="219.74" y="491.2" font-size="10.6" text-anchor="middle" fill="#000" textLength="22.2" lengthAdjust="spacingAndGlyphs">25.0</text>
<line x1="111.8" y1="450.56" x2="115.1" y2="450.56" stroke="#000" stroke-width="1.05"/>
<text x="108.9" y="454.96" font-size="10.6" text-anchor="end" fill="#000" textLength="16.2" lengthAdjust="spacingAndGlyphs">−4</text>
<line x1="111.8" y1="417.56" x2="115.1" y2="417.56" stroke="#000" stroke-width="1.05"/>
<text x="108.9" y="421.96" font-size="10.6" text-anchor="end" fill="#000" textLength="16.2" lengthAdjust="spacingAndGlyphs">−2</text>
<line x1="111.8" y1="384.57" x2="115.1" y2="384.57" stroke="#000" stroke-width="1.05"/>
<text x="108.9" y="388.97" font-size="10.6" text-anchor="end" fill="#000" textLength="6.7" lengthAdjust="spacingAndGlyphs">0</text>
<g transform="rotate(-90 81 418.4)"><text x="31.5" y="418.4" font-size="11.8" font-style="italic" fill="#111" textLength="9.5" lengthAdjust="spacingAndGlyphs">m</text><text x="41.9" y="415.6" font-size="8.2" font-style="italic" fill="#111" textLength="21.1" lengthAdjust="spacingAndGlyphs">clump</text><text x="41" y="421.7" font-size="8.2" font-style="italic" fill="#111">g</text><rect x="66.8" y="414.2" width="6.8" height="0.9" fill="#111"/><text x="77.7" y="418.4" font-size="11.8" font-style="italic" fill="#111" textLength="9.5" lengthAdjust="spacingAndGlyphs">m</text><text x="88.1" y="415.6" font-size="8.2" font-style="italic" fill="#111" textLength="42.4" lengthAdjust="spacingAndGlyphs">background</text><text x="87.2" y="421.7" font-size="8.2" font-style="italic" fill="#111">g</text></g>
<text x="161.25" y="507.7" font-size="11.8" font-style="italic" fill="#111" textLength="9.5" lengthAdjust="spacingAndGlyphs">m</text><text x="171.65" y="504.9" font-size="8.2" font-style="italic" fill="#111" textLength="21.1" lengthAdjust="spacingAndGlyphs">clump</text><text x="170.75" y="511" font-size="8.2" font-style="italic" fill="#111">g</text>
<g shape-rendering="crispEdges">
<rect x="344.92" y="355.2" width="6.54" height="6.36" fill="#6fce58"/>
<rect x="351.16" y="355.2" width="6.54" height="6.36" fill="#6fce58"/>
<rect x="363.64" y="355.2" width="6.54" height="6.36" fill="#21918c"/>
<rect x="344.92" y="361.25" width="6.54" height="6.36" fill="#6fce58"/>
<rect x="351.16" y="361.25" width="6.54" height="6.36" fill="#6fce58"/>
<rect x="344.92" y="367.31" width="6.54" height="6.36" fill="#6fce58"/>
<rect x="351.16" y="367.31" width="6.54" height="6.36" fill="#6fce58"/>
<rect x="357.4" y="367.31" width="6.54" height="6.36" fill="#3cbb75"/>
<rect x="344.92" y="373.37" width="6.54" height="6.36" fill="#6fce58"/>
<rect x="351.16" y="373.37" width="6.54" height="6.36" fill="#6fce58"/>
<rect x="357.4" y="373.37" width="6.54" height="6.36" fill="#27ad81"/>
<rect x="363.64" y="373.37" width="6.54" height="6.36" fill="#21918c"/>
<rect x="319.96" y="379.42" width="6.54" height="6.36" fill="#9bd93c"/>
<rect x="332.44" y="379.42" width="6.54" height="6.36" fill="#9bd93c"/>
<rect x="344.92" y="379.42" width="6.54" height="6.36" fill="#6fce58"/>
<rect x="351.16" y="379.42" width="6.54" height="6.36" fill="#3cbb75"/>
<rect x="357.4" y="379.42" width="6.54" height="6.36" fill="#33b67a"/>
<rect x="363.64" y="379.42" width="6.54" height="6.36" fill="#21918c"/>
<rect x="369.88" y="379.42" width="6.54" height="6.36" fill="#21918c"/>
<rect x="376.12" y="379.42" width="6.54" height="6.36" fill="#2c738e"/>
<rect x="313.72" y="385.48" width="6.54" height="6.36" fill="#9bd93c"/>
<rect x="319.96" y="385.48" width="6.54" height="6.36" fill="#9bd93c"/>
<rect x="326.2" y="385.48" width="6.54" height="6.36" fill="#9bd93c"/>
<rect x="332.44" y="385.48" width="6.54" height="6.36" fill="#afdd2f"/>
<rect x="338.68" y="385.48" width="6.54" height="6.36" fill="#9bd93c"/>
<rect x="344.92" y="385.48" width="6.54" height="6.36" fill="#7ad151"/>
<rect x="351.16" y="385.48" width="6.54" height="6.36" fill="#3cbb75"/>
<rect x="357.4" y="385.48" width="6.54" height="6.36" fill="#2cb27e"/>
<rect x="363.64" y="385.48" width="6.54" height="6.36" fill="#21918c"/>
<rect x="369.88" y="385.48" width="6.54" height="6.36" fill="#21918c"/>
<rect x="376.12" y="385.48" width="6.54" height="6.36" fill="#287d8e"/>
<rect x="382.36" y="385.48" width="6.54" height="6.36" fill="#287d8e"/>
<rect x="313.72" y="391.53" width="6.54" height="6.36" fill="#9bd93c"/>
<rect x="319.96" y="391.53" width="6.54" height="6.36" fill="#2fb47c"/>
<rect x="326.2" y="391.53" width="6.54" height="6.36" fill="#9bd93c"/>
<rect x="332.44" y="391.53" width="6.54" height="6.36" fill="#9bd93c"/>
<rect x="338.68" y="391.53" width="6.54" height="6.36" fill="#9bd93c"/>
<rect x="344.92" y="391.53" width="6.54" height="6.36" fill="#6fce58"/>
<rect x="351.16" y="391.53" width="6.54" height="6.36" fill="#33b67a"/>
<rect x="357.4" y="391.53" width="6.54" height="6.36" fill="#27ad81"/>
<rect x="363.64" y="391.53" width="6.54" height="6.36" fill="#21918c"/>
<rect x="369.88" y="391.53" width="6.54" height="6.36" fill="#21918c"/>
<rect x="376.12" y="391.53" width="6.54" height="6.36" fill="#287d8e"/>
<rect x="382.36" y="391.53" width="6.54" height="6.36" fill="#287d8e"/>
<rect x="388.6" y="391.53" width="6.54" height="6.36" fill="#355f8d"/>
<rect x="313.72" y="397.58" width="6.54" height="6.36" fill="#9bd93c"/>
<rect x="319.96" y="397.58" width="6.54" height="6.36" fill="#9bd93c"/>
<rect x="326.2" y="397.58" width="6.54" height="6.36" fill="#9bd93c"/>
<rect x="332.44" y="397.58" width="6.54" height="6.36" fill="#4ec36a"/>
<rect x="338.68" y="397.58" width="6.54" height="6.36" fill="#9bd93c"/>
<rect x="344.92" y="397.58" width="6.54" height="6.36" fill="#7ad151"/>
<rect x="351.16" y="397.58" width="6.54" height="6.36" fill="#2cb27e"/>
<rect x="357.4" y="397.58" width="6.54" height="6.36" fill="#27ad81"/>
<rect x="363.64" y="397.58" width="6.54" height="6.36" fill="#20968b"/>
<rect x="369.88" y="397.58" width="6.54" height="6.36" fill="#21918c"/>
<rect x="376.12" y="397.58" width="6.54" height="6.36" fill="#25848e"/>
<rect x="382.36" y="397.58" width="6.54" height="6.36" fill="#25848e"/>
<rect x="388.6" y="397.58" width="6.54" height="6.36" fill="#25848e"/>
<rect x="313.72" y="403.64" width="6.54" height="6.36" fill="#20a486"/>
<rect x="319.96" y="403.64" width="6.54" height="6.36" fill="#9bd93c"/>
<rect x="326.2" y="403.64" width="6.54" height="6.36" fill="#9bd93c"/>
<rect x="332.44" y="403.64" width="6.54" height="6.36" fill="#3cbb75"/>
<rect x="338.68" y="403.64" width="6.54" height="6.36" fill="#8ed644"/>
<rect x="344.92" y="403.64" width="6.54" height="6.36" fill="#87d449"/>
<rect x="351.16" y="403.64" width="6.54" height="6.36" fill="#22a884"/>
<rect x="357.4" y="403.64" width="6.54" height="6.36" fill="#27ad81"/>
<rect x="363.64" y="403.64" width="6.54" height="6.36" fill="#1e9d89"/>
<rect x="369.88" y="403.64" width="6.54" height="6.36" fill="#287d8e"/>
<rect x="376.12" y="403.64" width="6.54" height="6.36" fill="#2a788e"/>
<rect x="382.36" y="403.64" width="6.54" height="6.36" fill="#25848e"/>
<rect x="388.6" y="403.64" width="6.54" height="6.36" fill="#25848e"/>
<rect x="307.48" y="409.69" width="6.54" height="6.36" fill="#25848e"/>
<rect x="313.72" y="409.69" width="6.54" height="6.36" fill="#21918c"/>
<rect x="319.96" y="409.69" width="6.54" height="6.36" fill="#27ad81"/>
<rect x="326.2" y="409.69" width="6.54" height="6.36" fill="#27ad81"/>
<rect x="332.44" y="409.69" width="6.54" height="6.36" fill="#1e9d89"/>
<rect x="338.68" y="409.69" width="6.54" height="6.36" fill="#3cbb75"/>
<rect x="344.92" y="409.69" width="6.54" height="6.36" fill="#33b67a"/>
<rect x="351.16" y="409.69" width="6.54" height="6.36" fill="#20968b"/>
<rect x="357.4" y="409.69" width="6.54" height="6.36" fill="#1e9d89"/>
<rect x="363.64" y="409.69" width="6.54" height="6.36" fill="#1e9d89"/>
<rect x="369.88" y="409.69" width="6.54" height="6.36" fill="#25848e"/>
<rect x="376.12" y="409.69" width="6.54" height="6.36" fill="#2c738e"/>
<rect x="382.36" y="409.69" width="6.54" height="6.36" fill="#45347f"/>
<rect x="388.6" y="409.69" width="6.54" height="6.36" fill="#472a79"/>
<rect x="313.72" y="415.75" width="6.54" height="6.36" fill="#375a8c"/>
<rect x="319.96" y="415.75" width="6.54" height="6.36" fill="#375a8c"/>
<rect x="326.2" y="415.75" width="6.54" height="6.36" fill="#21918c"/>
<rect x="332.44" y="415.75" width="6.54" height="6.36" fill="#287d8e"/>
<rect x="338.68" y="415.75" width="6.54" height="6.36" fill="#20968b"/>
<rect x="344.92" y="415.75" width="6.54" height="6.36" fill="#20968b"/>
<rect x="351.16" y="415.75" width="6.54" height="6.36" fill="#25848e"/>
<rect x="357.4" y="415.75" width="6.54" height="6.36" fill="#2c738e"/>
<rect x="363.64" y="415.75" width="6.54" height="6.36" fill="#2c738e"/>
<rect x="369.88" y="415.75" width="6.54" height="6.36" fill="#20968b"/>
<rect x="376.12" y="415.75" width="6.54" height="6.36" fill="#238c8d"/>
<rect x="382.36" y="415.75" width="6.54" height="6.36" fill="#375a8c"/>
<rect x="388.6" y="415.75" width="6.54" height="6.36" fill="#375a8c"/>
<rect x="394.84" y="415.75" width="6.54" height="6.36" fill="#3f4a89"/>
<rect x="313.72" y="421.81" width="6.54" height="6.36" fill="#375a8c"/>
<rect x="319.96" y="421.81" width="6.54" height="6.36" fill="#375a8c"/>
<rect x="326.2" y="421.81" width="6.54" height="6.36" fill="#375a8c"/>
<rect x="332.44" y="421.81" width="6.54" height="6.36" fill="#375a8c"/>
<rect x="338.68" y="421.81" width="6.54" height="6.36" fill="#375a8c"/>
<rect x="344.92" y="421.81" width="6.54" height="6.36" fill="#31678e"/>
<rect x="351.16" y="421.81" width="6.54" height="6.36" fill="#355f8d"/>
<rect x="357.4" y="421.81" width="6.54" height="6.36" fill="#355f8d"/>
<rect x="363.64" y="421.81" width="6.54" height="6.36" fill="#2c738e"/>
<rect x="369.88" y="421.81" width="6.54" height="6.36" fill="#21918c"/>
<rect x="376.12" y="421.81" width="6.54" height="6.36" fill="#25848e"/>
<rect x="382.36" y="421.81" width="6.54" height="6.36" fill="#375a8c"/>
<rect x="388.6" y="421.81" width="6.54" height="6.36" fill="#375a8c"/>
<rect x="394.84" y="421.81" width="6.54" height="6.36" fill="#375a8c"/>
<rect x="313.72" y="427.86" width="6.54" height="6.36" fill="#471668"/>
<rect x="319.96" y="427.86" width="6.54" height="6.36" fill="#45085b"/>
<rect x="326.2" y="427.86" width="6.54" height="6.36" fill="#482475"/>
<rect x="332.44" y="427.86" width="6.54" height="6.36" fill="#482475"/>
<rect x="338.68" y="427.86" width="6.54" height="6.36" fill="#45347f"/>
<rect x="344.92" y="427.86" width="6.54" height="6.36" fill="#45347f"/>
<rect x="351.16" y="427.86" width="6.54" height="6.36" fill="#45347f"/>
<rect x="357.4" y="427.86" width="6.54" height="6.36" fill="#433e84"/>
<rect x="363.64" y="427.86" width="6.54" height="6.36" fill="#375a8c"/>
<rect x="369.88" y="427.86" width="6.54" height="6.36" fill="#2c738e"/>
<rect x="376.12" y="427.86" width="6.54" height="6.36" fill="#2c738e"/>
<rect x="382.36" y="427.86" width="6.54" height="6.36" fill="#3f4a89"/>
<rect x="388.6" y="427.86" width="6.54" height="6.36" fill="#482475"/>
<rect x="394.84" y="427.86" width="6.54" height="6.36" fill="#482475"/>
<rect x="401.08" y="427.86" width="6.54" height="6.36" fill="#482475"/>
<rect x="326.2" y="433.92" width="6.54" height="6.36" fill="#460c5e"/>
<rect x="332.44" y="433.92" width="6.54" height="6.36" fill="#472a79"/>
<rect x="338.68" y="433.92" width="6.54" height="6.36" fill="#462e7b"/>
<rect x="344.92" y="433.92" width="6.54" height="6.36" fill="#45347f"/>
<rect x="351.16" y="433.92" width="6.54" height="6.36" fill="#45347f"/>
<rect x="357.4" y="433.92" width="6.54" height="6.36" fill="#45347f"/>
<rect x="363.64" y="433.92" width="6.54" height="6.36" fill="#45347f"/>
<rect x="369.88" y="433.92" width="6.54" height="6.36" fill="#355f8d"/>
<rect x="376.12" y="433.92" width="6.54" height="6.36" fill="#355f8d"/>
<rect x="382.36" y="433.92" width="6.54" height="6.36" fill="#414487"/>
<rect x="388.6" y="433.92" width="6.54" height="6.36" fill="#482475"/>
<rect x="394.84" y="433.92" width="6.54" height="6.36" fill="#482475"/>
<rect x="401.08" y="433.92" width="6.54" height="6.36" fill="#482475"/>
<rect x="326.2" y="439.97" width="6.54" height="6.36" fill="#460c5e"/>
<rect x="332.44" y="439.97" width="6.54" height="6.36" fill="#460c5e"/>
<rect x="338.68" y="439.97" width="6.54" height="6.36" fill="#460c5e"/>
<rect x="344.92" y="439.97" width="6.54" height="6.36" fill="#45347f"/>
<rect x="351.16" y="439.97" width="6.54" height="6.36" fill="#482475"/>
<rect x="357.4" y="439.97" width="6.54" height="6.36" fill="#45347f"/>
<rect x="363.64" y="439.97" width="6.54" height="6.36" fill="#45347f"/>
<rect x="369.88" y="439.97" width="6.54" height="6.36" fill="#433e84"/>
<rect x="376.12" y="439.97" width="6.54" height="6.36" fill="#3b528b"/>
<rect x="382.36" y="439.97" width="6.54" height="6.36" fill="#433e84"/>
<rect x="388.6" y="439.97" width="6.54" height="6.36" fill="#482475"/>
<rect x="394.84" y="439.97" width="6.54" height="6.36" fill="#482475"/>
<rect x="401.08" y="439.97" width="6.54" height="6.36" fill="#482475"/>
<rect x="338.68" y="446.02" width="6.54" height="6.36" fill="#460c5e"/>
<rect x="344.92" y="446.02" width="6.54" height="6.36" fill="#460c5e"/>
<rect x="351.16" y="446.02" width="6.54" height="6.36" fill="#471668"/>
<rect x="357.4" y="446.02" width="6.54" height="6.36" fill="#481d6f"/>
<rect x="363.64" y="446.02" width="6.54" height="6.36" fill="#482475"/>
<rect x="369.88" y="446.02" width="6.54" height="6.36" fill="#482475"/>
<rect x="376.12" y="446.02" width="6.54" height="6.36" fill="#482475"/>
<rect x="382.36" y="446.02" width="6.54" height="6.36" fill="#482475"/>
<rect x="388.6" y="446.02" width="6.54" height="6.36" fill="#482475"/>
<rect x="394.84" y="446.02" width="6.54" height="6.36" fill="#482475"/>
<rect x="401.08" y="446.02" width="6.54" height="6.36" fill="#482475"/>
<rect x="407.32" y="446.02" width="6.54" height="6.36" fill="#482475"/>
<rect x="351.16" y="452.08" width="6.54" height="6.36" fill="#460c5e"/>
<rect x="363.64" y="452.08" width="6.54" height="6.36" fill="#482475"/>
<rect x="369.88" y="452.08" width="6.54" height="6.36" fill="#482475"/>
<rect x="376.12" y="452.08" width="6.54" height="6.36" fill="#482475"/>
<rect x="382.36" y="452.08" width="6.54" height="6.36" fill="#482475"/>
<rect x="388.6" y="452.08" width="6.54" height="6.36" fill="#482475"/>
<rect x="394.84" y="452.08" width="6.54" height="6.36" fill="#482475"/>
<rect x="401.08" y="452.08" width="6.54" height="6.36" fill="#482475"/>
<rect x="407.32" y="452.08" width="6.54" height="6.36" fill="#482475"/>
<rect x="369.88" y="458.13" width="6.54" height="6.36" fill="#482475"/>
<rect x="407.32" y="464.19" width="6.54" height="6.36" fill="#482475"/>
<rect x="407.32" y="470.25" width="6.54" height="6.36" fill="#482475"/>
</g>
<rect x="295" y="355.2" width="124.8" height="121.1" fill="none" stroke="#000" stroke-width="1.05"/>
<line x1="310.29" y1="476.3" x2="310.29" y2="479.6" stroke="#000" stroke-width="1.05"/>
<text x="310.69" y="491.2" font-size="10.6" text-anchor="middle" fill="#000" textLength="16.2" lengthAdjust="spacingAndGlyphs">−1</text>
<line x1="341.49" y1="476.3" x2="341.49" y2="479.6" stroke="#000" stroke-width="1.05"/>
<text x="341.29" y="491.2" font-size="10.6" text-anchor="middle" fill="#000" textLength="6.7" lengthAdjust="spacingAndGlyphs">0</text>
<line x1="372.69" y1="476.3" x2="372.69" y2="479.6" stroke="#000" stroke-width="1.05"/>
<text x="372.49" y="491.2" font-size="10.6" text-anchor="middle" fill="#000" textLength="6.7" lengthAdjust="spacingAndGlyphs">1</text>
<line x1="403.89" y1="476.3" x2="403.89" y2="479.6" stroke="#000" stroke-width="1.05"/>
<text x="403.69" y="491.2" font-size="10.6" text-anchor="middle" fill="#000" textLength="6.7" lengthAdjust="spacingAndGlyphs">2</text>
<line x1="291.7" y1="450.56" x2="295" y2="450.56" stroke="#000" stroke-width="1.05"/>
<text x="288.8" y="454.96" font-size="10.6" text-anchor="end" fill="#000" textLength="16.2" lengthAdjust="spacingAndGlyphs">−4</text>
<line x1="291.7" y1="417.56" x2="295" y2="417.56" stroke="#000" stroke-width="1.05"/>
<text x="288.8" y="421.96" font-size="10.6" text-anchor="end" fill="#000" textLength="16.2" lengthAdjust="spacingAndGlyphs">−2</text>
<line x1="291.7" y1="384.57" x2="295" y2="384.57" stroke="#000" stroke-width="1.05"/>
<text x="288.8" y="388.97" font-size="10.6" text-anchor="end" fill="#000" textLength="6.7" lengthAdjust="spacingAndGlyphs">0</text>
<g transform="rotate(-90 261.4 418.4)"><text x="211.9" y="418.4" font-size="11.8" font-style="italic" fill="#111" textLength="9.5" lengthAdjust="spacingAndGlyphs">m</text><text x="222.3" y="415.6" font-size="8.2" font-style="italic" fill="#111" textLength="21.1" lengthAdjust="spacingAndGlyphs">clump</text><text x="221.4" y="421.7" font-size="8.2" font-style="italic" fill="#111">g</text><rect x="247.2" y="414.2" width="6.8" height="0.9" fill="#111"/><text x="258.1" y="418.4" font-size="11.8" font-style="italic" fill="#111" textLength="9.5" lengthAdjust="spacingAndGlyphs">m</text><text x="268.5" y="415.6" font-size="8.2" font-style="italic" fill="#111" textLength="42.4" lengthAdjust="spacingAndGlyphs">background</text><text x="267.6" y="421.7" font-size="8.2" font-style="italic" fill="#111">g</text></g>
<text x="318.15" y="507.7" font-size="11.8" font-style="italic" fill="#111" textLength="9.5" lengthAdjust="spacingAndGlyphs">m</text><text x="328.55" y="504.9" font-size="8.2" font-style="italic" fill="#111" textLength="21.1" lengthAdjust="spacingAndGlyphs">clump</text><text x="327.65" y="511" font-size="8.2" font-style="italic" fill="#111">g</text><rect x="353.45" y="503.5" width="6.8" height="0.9" fill="#111"/><text x="364.35" y="507.7" font-size="11.8" font-style="italic" fill="#111" textLength="9.5" lengthAdjust="spacingAndGlyphs">m</text><text x="374.75" y="504.9" font-size="8.2" font-style="italic" fill="#111" textLength="21.1" lengthAdjust="spacingAndGlyphs">clump</text><text x="373.85" y="511" font-size="8.2" font-style="italic" fill="#111">r</text>
<clipPath id="c22"><rect x="476" y="355.2" width="124.3" height="121.1"/></clipPath>
<g clip-path="url(#c22)">
<path d="M491 380.5 L497.6 380 L502.9 374 L509 373.6 L515.4 373.4 L522.5 371 L528.4 374.6 L533.2 383.5 L537 394.2 L540.6 404.9 L544 416 L548.9 434 L554.8 449.4 L560.2 451.8 L565.5 455.4 L569 461.3 L571.4 464.9 L584.5 465.3 L584.5 466.2 L577.4 470.2 L572.6 471.4 L565.5 470.8 L559.6 466 L553.6 464.9 L547.7 450 L541.75 443.5 L537 434 L534 428 L528.4 419 L522.5 417 L516 421.5 L510 424 L504 414.5 L491 414.5 Z" fill="#ffb3b3" stroke="#ffb3b3" stroke-width="0.6" stroke-linejoin="round"/>
<path d="M490.4 380.5 L497.6 380.5 L503.5 393 L509.4 398.7 L516 393 L522.5 390 L528.4 390 L534.4 399 L539 413.2 L547.7 441.1 L553.6 456 L566.7 465.8 L584.5 465.8" fill="none" stroke="#ff0808" stroke-width="1.75" stroke-linejoin="round" stroke-linecap="butt"/>
<path d="M475 473.2 L479.75 475 L488 473.8 L496.4 472.6 L502.3 469.6 L505.9 469 L510.6 462.5 L515.4 453 L519.5 438.75 L522.5 428 L525.5 415 L529.6 391.8 L533.2 377.6 L536.75 365.7 L538.8 360.3 L540.2 365.5 L542.3 363.2 L543.5 368 L547.1 390.6 L551.25 414.4 L554.8 431.6 L559.6 448.25 L563.1 460.1 L567.9 466 L575 470.2 L580.9 472.6 L586.9 474.4 L591.6 473.8 L601 473.8" fill="none" stroke="#000" stroke-width="1.7" stroke-dasharray="5.2 2.2" stroke-linejoin="round"/>
</g>
<rect x="476" y="355.2" width="124.3" height="121.1" fill="none" stroke="#000" stroke-width="1.05"/>
<line x1="501.91" y1="476.3" x2="501.91" y2="479.6" stroke="#000" stroke-width="1.05"/>
<text x="502.31" y="491.2" font-size="10.6" text-anchor="middle" fill="#000" textLength="16.2" lengthAdjust="spacingAndGlyphs">−4</text>
<line x1="535.78" y1="476.3" x2="535.78" y2="479.6" stroke="#000" stroke-width="1.05"/>
<text x="536.18" y="491.2" font-size="10.6" text-anchor="middle" fill="#000" textLength="16.2" lengthAdjust="spacingAndGlyphs">−2</text>
<line x1="569.65" y1="476.3" x2="569.65" y2="479.6" stroke="#000" stroke-width="1.05"/>
<text x="569.45" y="491.2" font-size="10.6" text-anchor="middle" fill="#000" textLength="6.7" lengthAdjust="spacingAndGlyphs">0</text>
<line x1="472.7" y1="476.3" x2="476" y2="476.3" stroke="#000" stroke-width="1.05"/>
<text x="469.8" y="480.7" font-size="10.6" text-anchor="end" fill="#000" textLength="17" lengthAdjust="spacingAndGlyphs">0.0</text>
<line x1="472.7" y1="452.08" x2="476" y2="452.08" stroke="#000" stroke-width="1.05"/>
<text x="469.8" y="456.48" font-size="10.6" text-anchor="end" fill="#000" textLength="17" lengthAdjust="spacingAndGlyphs">0.2</text>
<line x1="472.7" y1="427.86" x2="476" y2="427.86" stroke="#000" stroke-width="1.05"/>
<text x="469.8" y="432.26" font-size="10.6" text-anchor="end" fill="#000" textLength="17" lengthAdjust="spacingAndGlyphs">0.4</text>
<line x1="472.7" y1="403.64" x2="476" y2="403.64" stroke="#000" stroke-width="1.05"/>
<text x="469.8" y="408.04" font-size="10.6" text-anchor="end" fill="#000" textLength="17" lengthAdjust="spacingAndGlyphs">0.6</text>
<line x1="472.7" y1="379.42" x2="476" y2="379.42" stroke="#000" stroke-width="1.05"/>
<text x="469.8" y="383.82" font-size="10.6" text-anchor="end" fill="#000" textLength="17" lengthAdjust="spacingAndGlyphs">0.8</text>
<line x1="472.7" y1="355.2" x2="476" y2="355.2" stroke="#000" stroke-width="1.05"/>
<text x="469.8" y="359.6" font-size="10.6" text-anchor="end" fill="#000" textLength="17" lengthAdjust="spacingAndGlyphs">1.0</text>
<line x1="600.3" y1="476.3" x2="603.6" y2="476.3" stroke="#000" stroke-width="1.05"/>
<text x="605.6" y="480.7" font-size="10.6" text-anchor="start" fill="#000" textLength="16.6" lengthAdjust="spacingAndGlyphs">0.0</text>
<line x1="600.3" y1="433.91" x2="603.6" y2="433.91" stroke="#000" stroke-width="1.05"/>
<text x="605.6" y="438.31" font-size="10.6" text-anchor="start" fill="#000" textLength="16.6" lengthAdjust="spacingAndGlyphs">0.2</text>
<line x1="600.3" y1="391.53" x2="603.6" y2="391.53" stroke="#000" stroke-width="1.05"/>
<text x="605.6" y="395.93" font-size="10.6" text-anchor="start" fill="#000" textLength="16.6" lengthAdjust="spacingAndGlyphs">0.4</text>
<text x="446" y="416.6" font-size="11" text-anchor="middle" fill="#000" textLength="112" lengthAdjust="spacingAndGlyphs" transform="rotate(-90 446 416.6)">Est. recovery fraction</text>
<text x="632.8" y="416.5" font-size="11" text-anchor="middle" fill="#000" textLength="107.5" lengthAdjust="spacingAndGlyphs" transform="rotate(-90 632.8 416.5)">Clump count density</text>
<text x="488.2" y="507.7" font-size="11.8" font-style="italic" fill="#111" textLength="9.5" lengthAdjust="spacingAndGlyphs">m</text><text x="498.6" y="504.9" font-size="8.2" font-style="italic" fill="#111" textLength="21.1" lengthAdjust="spacingAndGlyphs">clump</text><text x="497.7" y="511" font-size="8.2" font-style="italic" fill="#111">g</text><rect x="523.5" y="503.5" width="6.8" height="0.9" fill="#111"/><text x="534.4" y="507.7" font-size="11.8" font-style="italic" fill="#111" textLength="9.5" lengthAdjust="spacingAndGlyphs">m</text><text x="544.8" y="504.9" font-size="8.2" font-style="italic" fill="#111" textLength="42.4" lengthAdjust="spacingAndGlyphs">background</text><text x="543.9" y="511" font-size="8.2" font-style="italic" fill="#111">g</text>
</svg>
</body></html>
